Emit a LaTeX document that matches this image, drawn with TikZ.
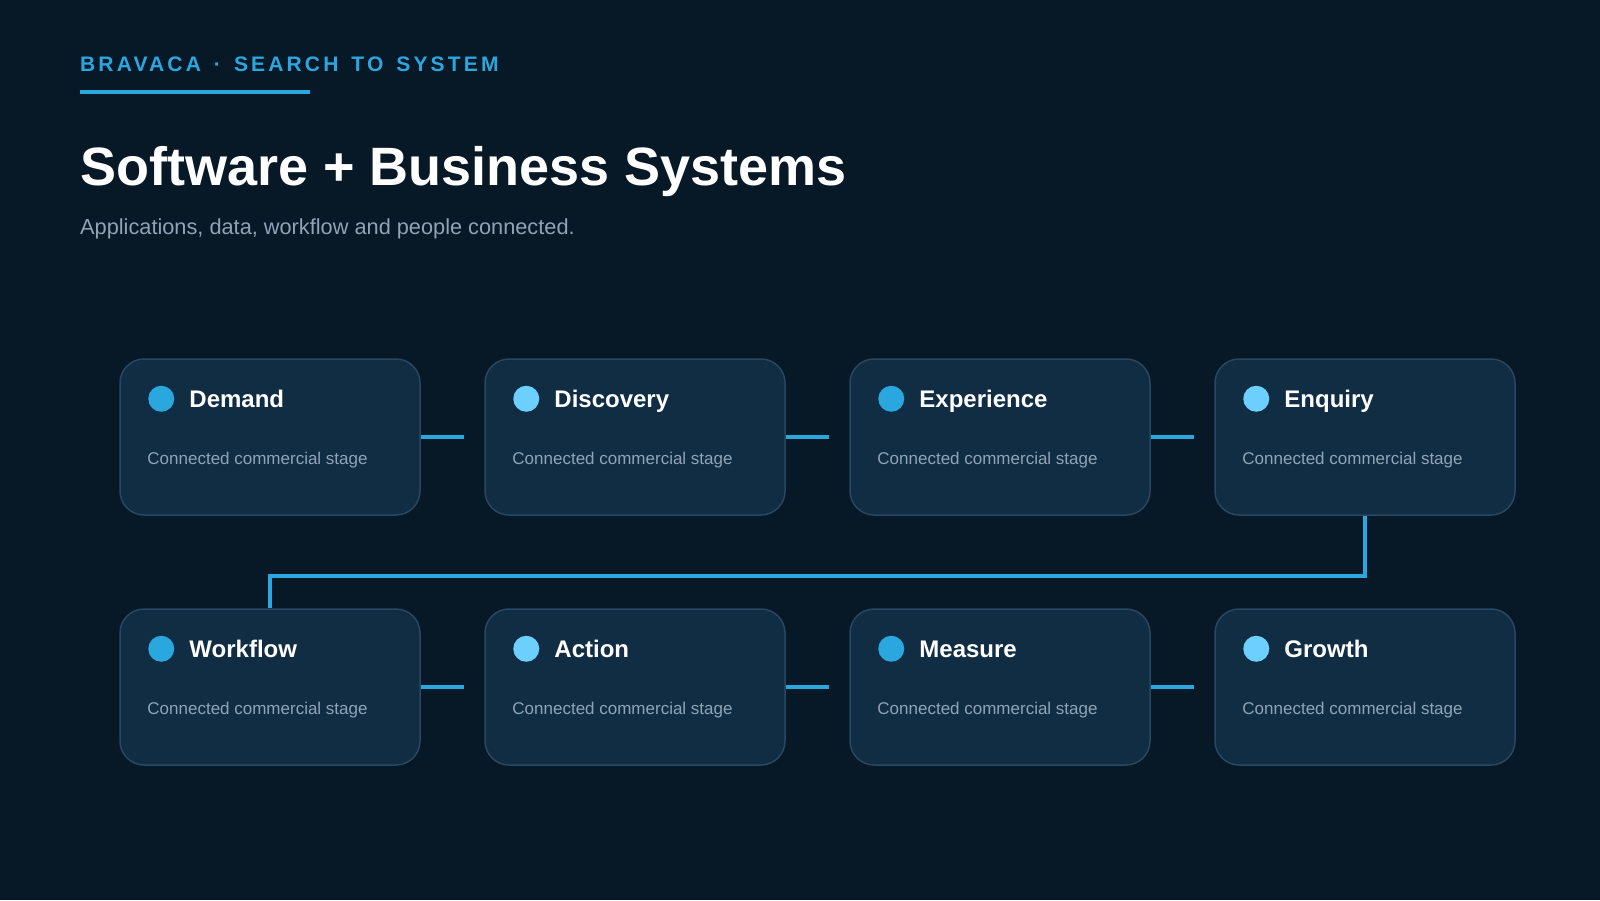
\documentclass[tikz,border=0pt]{standalone}
\usepackage{fontspec}
\setmainfont{Liberation Sans}
\newfontfamily\kickerfont{Liberation Sans}[LetterSpace=15, WordSpace=1.45]
\usetikzlibrary{calc}
\definecolor{pagebg}{HTML}{071827}
\definecolor{cardfill}{HTML}{112D44}
\definecolor{cardline}{HTML}{284760}
\definecolor{accent}{HTML}{2AA7DF}
\definecolor{accentlight}{HTML}{6CCFFD}
\definecolor{muted}{HTML}{8FA4B6}
\tikzset{
	card/.style={draw=cardline, fill=cardfill, line width=1.5pt, rounded corners=24pt,
		minimum width=300pt, minimum height=156pt, inner sep=0pt},
	dot/.style={circle, inner sep=0pt, minimum size=26pt},
	stagename/.style={anchor=base west, inner sep=0pt, text=white, font=\bfseries\fontsize{24}{28}\selectfont},
	stagenote/.style={anchor=base west, inner sep=0pt, text=muted, font=\fontsize{17}{20}\selectfont},
	link/.style={draw=accent, line width=4pt},
	route/.style={draw=accent, line width=3.6pt},
}
\def\stagecard(#1)(#2)[#3]#4;{
	\node[card] (#1) at (#2) {};
	\node[dot, fill=#3] (#1-dot) at ($(#1.north west)+(42,40.5)$) {};
	\node[stagename] (#1-name) at ($(#1.north west)+(70,49)$) {#4};
	\node[stagenote] (#1-note) at ($(#1.north west)+(28,106.5)$) {Connected commercial stage};
}

\begin{document}
\begin{tikzpicture}[x=1pt, y=-1pt]
	%%%%% PAGE %%%%%
	\fill[pagebg] (0,0) rectangle (1600,900);
	\useasboundingbox (0,0) rectangle (1600,900);
	
	%%%%% HEADER %%%%%
	\node[anchor=base west, inner sep=0pt, text=accent, font=\kickerfont\bfseries\fontsize{21}{24}\selectfont] (kicker) at (80,71) {BRAVACA · SEARCH TO SYSTEM};
	\fill[accent] (80,90) rectangle (310,93.5);
	\node[anchor=base west, inner sep=0pt, text=white, font=\bfseries\fontsize{54}{60}\selectfont] (title) at (80,185) {Software + Business Systems};
	\node[anchor=base west, inner sep=0pt, text=muted, font=\fontsize{21.75}{26}\selectfont] (subtitle) at (80,234) {Applications, data, workflow and people connected.};
	
	%%%%% CARDS %%%%%
	\stagecard(demand)(270,437)[accent]{Demand};
	\stagecard(discovery)(635,437)[accentlight]{Discovery};
	\stagecard(experience)(1000,437)[accent]{Experience};
	\stagecard(enquiry)(1365,437)[accentlight]{Enquiry};
	
	\stagecard(workflow)(270,687)[accent]{Workflow};
	\stagecard(action)(635,687)[accentlight]{Action};
	\stagecard(measure)(1000,687)[accent]{Measure};
	\stagecard(growth)(1365,687)[accentlight]{Growth};
	
	%%%%% LINKS %%%%%
	\draw[link] (demand.east) -- ($(discovery.west)+(-20,0)$);
	\draw[link] (discovery.east) -- ($(experience.west)+(-20,0)$);
	\draw[link] (experience.east) -- ($(enquiry.west)+(-20,0)$);
	
	\draw[route] (enquiry.south) -- ++(0,60) -| (workflow.north);
	
	\draw[link] (workflow.east) -- ($(action.west)+(-20,0)$);
	\draw[link] (action.east) -- ($(measure.west)+(-20,0)$);
	\draw[link] (measure.east) -- ($(growth.west)+(-20,0)$);
\end{tikzpicture}
\end{document}
